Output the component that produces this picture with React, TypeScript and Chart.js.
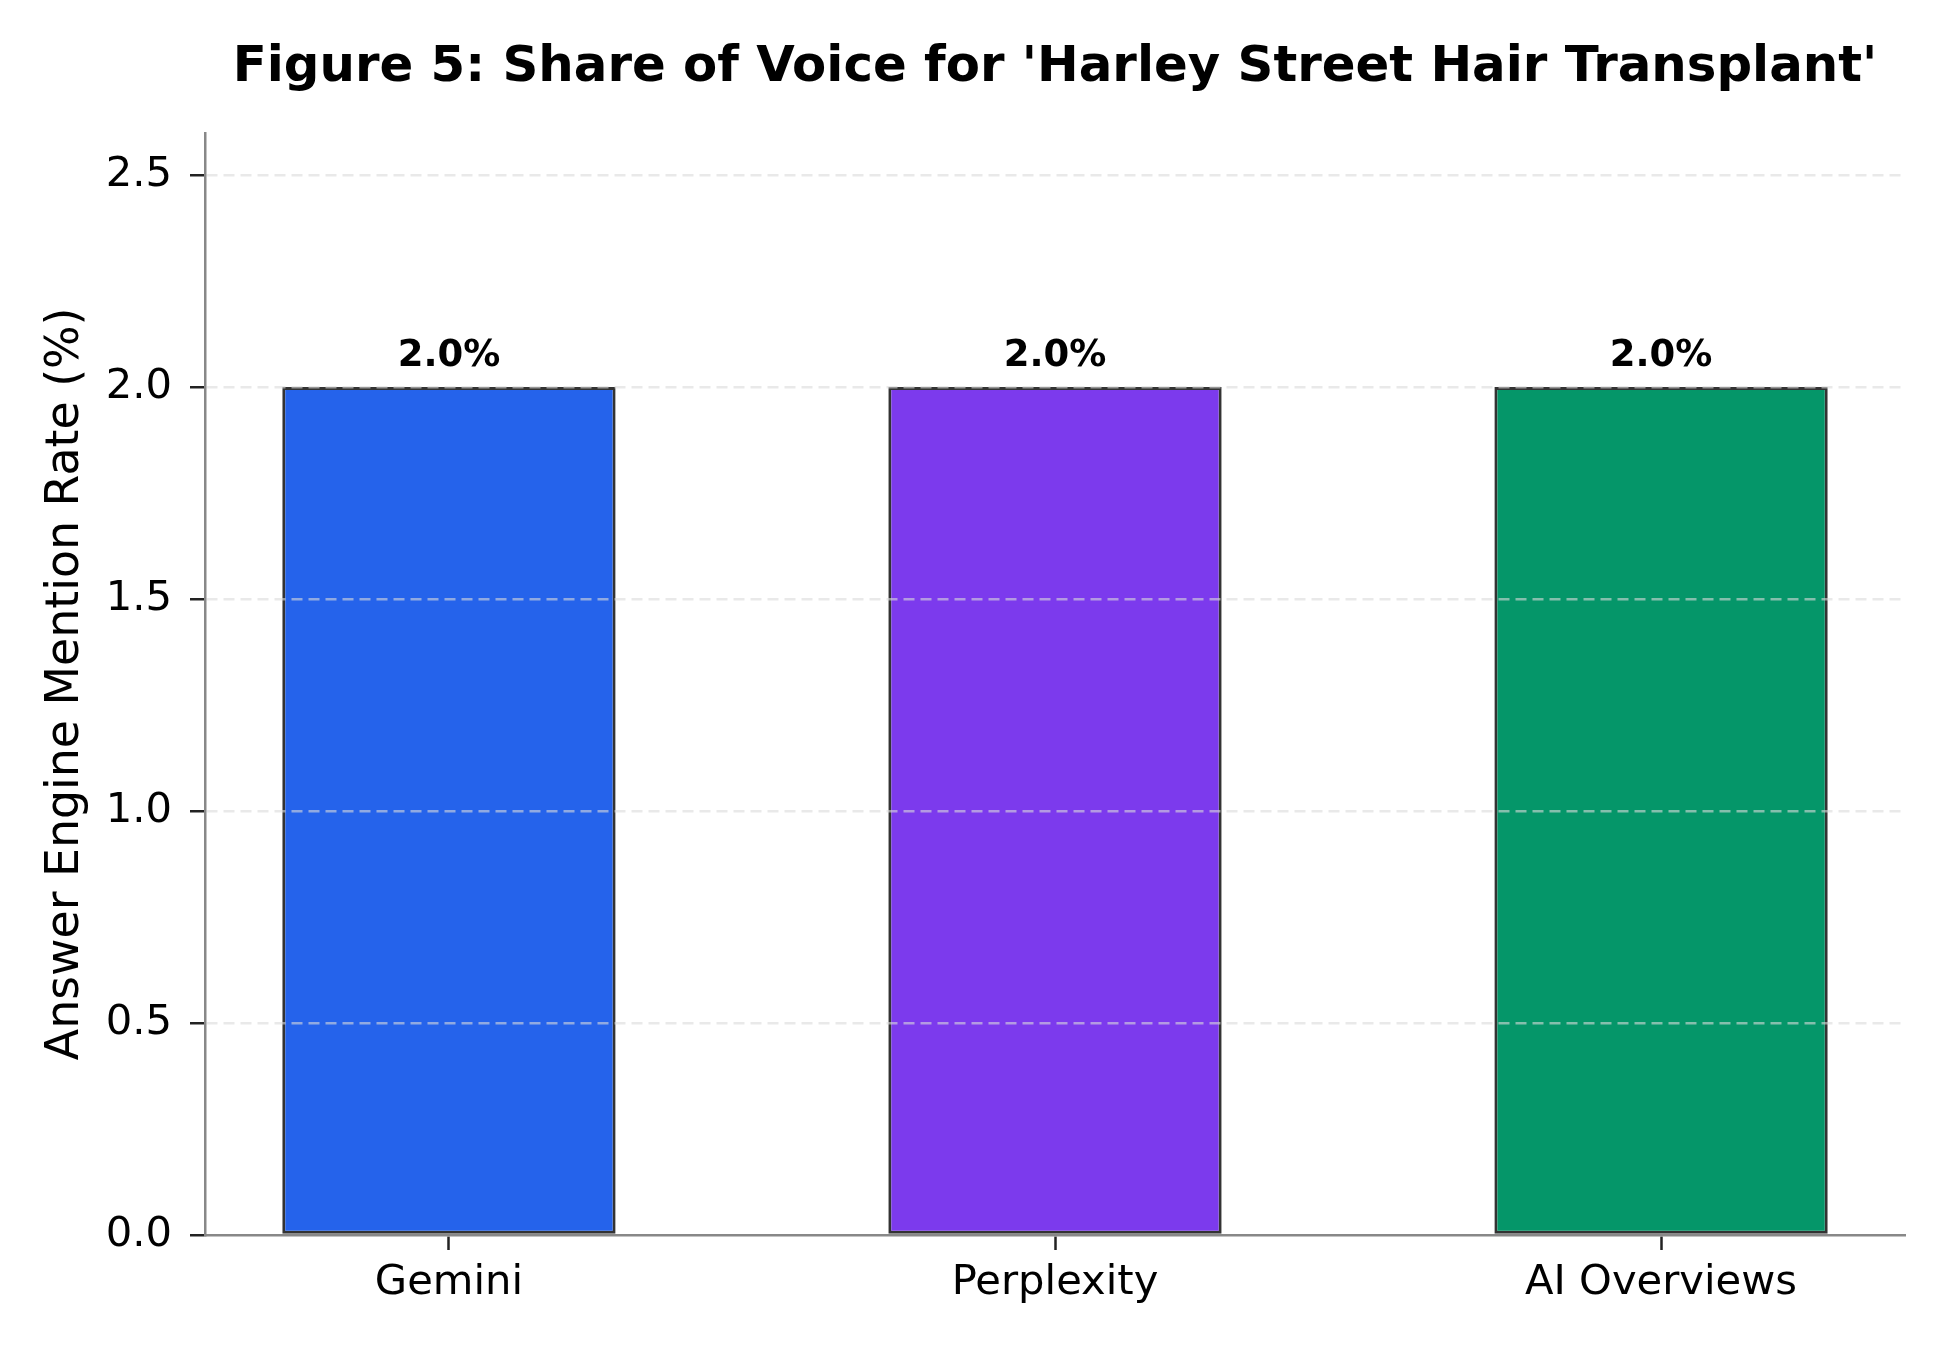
import { useEffect, useRef } from "react";
import { Chart, registerables } from "chart.js";

Chart.register(...registerables);

const categories = ["Gemini", "Perplexity", "AI Overviews"];
const mentionRates = [2.0, 2.0, 2.0];
const barColors = ["#2563EB", "#7C3AED", "#059669"];
const yTicks = [0, 0.5, 1.0, 1.5, 2.0, 2.5];

const FONT = "'DejaVu Sans', sans-serif";
const gridColor = "rgba(219, 219, 219, 0.6)";

// writes "2.0%" over each bar
const barLabels = {
  id: "barLabels",
  afterDatasetsDraw(chart: any) {
    const { ctx } = chart;
    const meta = chart.getDatasetMeta(0);
    ctx.save();
    ctx.font = `bold 37px ${FONT}`;
    ctx.fillStyle = "#000";
    ctx.textAlign = "center";
    ctx.textBaseline = "alphabetic";
    meta.data.forEach((bar: any, i: number) => {
      ctx.fillText(`${mentionRates[i].toFixed(1)}%`, bar.x, bar.y - 21);
    });
    ctx.restore();
  },
};

const App = () => {
  const chartRef: any = useRef(null);

  useEffect(() => {
    document.body.style.margin = "0";
    const ctx = chartRef.current.getContext("2d");

    const theChart = new Chart(ctx, {
      type: "bar",
      data: {
        datasets: [
          {
            data: mentionRates.map((v, i) => ({ x: i, y: v })),
            backgroundColor: barColors,
            borderColor: "#333333",
            borderWidth: 3,
            borderSkipped: false,
            barPercentage: 0.55,
            categoryPercentage: 1,
          },
        ],
      },
      options: {
        animation: false,
        responsive: true,
        maintainAspectRatio: false,
        devicePixelRatio: 1,
        layout: { padding: { left: 0, right: 45, top: 0, bottom: 0 } },
        plugins: {
          legend: { display: false },
          tooltip: { enabled: false },
          title: {
            display: true,
            fullSize: false,
            text: "Figure 5: Share of Voice for 'Harley Street Hair Transplant'",
            color: "#000",
            font: { family: FONT, size: 49.8, weight: "bold" },
            padding: { top: 38, bottom: 35 },
          },
        },
        scales: {
          x: {
            type: "linear",
            offset: false,
            min: -0.4025,
            max: 2.4025,
            afterBuildTicks: (axis: any) => {
              axis.ticks = categories.map((_, i) => ({ value: i }));
            },
            afterFit: (scale: any) => {
              scale.height = 115;
            },
            ticks: {
              autoSkip: false,
              maxRotation: 0,
              padding: 8,
              color: "#000",
              font: { family: FONT, size: 41.7 },
              callback: (v: any) => categories[v] ?? "",
            },
            grid: {
              offset: false,
              drawOnChartArea: false,
              drawTicks: true,
              tickLength: 15,
              tickWidth: 2.5,
              tickColor: "#222",
            },
            border: { display: true, color: "#888888", width: 2.5 },
          },
          y: {
            min: 0,
            max: 2.6,
            afterBuildTicks: (axis: any) => {
              axis.ticks = yTicks.map((v) => ({ value: v }));
            },
            afterFit: (scale: any) => {
              scale.width = 205;
            },
            ticks: {
              padding: 18,
              color: "#000",
              font: { family: FONT, size: 41.7 },
              callback: (v: any) => Number(v).toFixed(1),
            },
            // grid goes over the bars, like the reference
            grid: {
              z: 1,
              color: (c: any) => (c.tick && c.tick.value === 0 ? "rgba(0,0,0,0)" : gridColor),
              lineWidth: 2.5,
              drawTicks: true,
              tickLength: 15,
              tickWidth: 2.5,
              tickColor: "#222",
              tickBorderDash: [],
            },
            border: { display: true, z: 1, color: "#888888", width: 2.5, dash: [11, 6] },
            title: {
              display: true,
              text: "Answer Engine Mention Rate (%)",
              color: "#000",
              font: { family: FONT, size: 45.8 },
              padding: { top: 39, bottom: 0 },
            },
          },
        },
      },
      plugins: [barLabels],
    } as any);

    return () => { theChart.destroy() }
  }, []);

  return (
    <div style={{ position: "relative", width: 1950, height: 1350 }}>
      <canvas ref={chartRef} />
    </div>
  );
};

export default App;
